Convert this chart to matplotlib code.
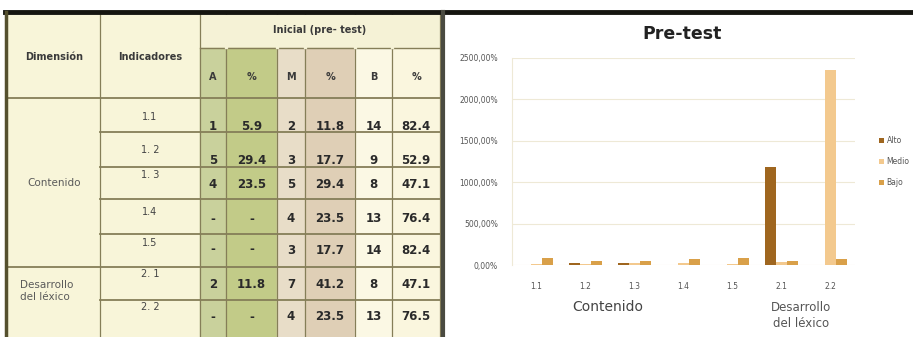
import matplotlib.pyplot as plt
from matplotlib.patches import Rectangle
import numpy as np

plt.rcParams['font.family'] = ['Liberation Sans', 'DejaVu Sans']

# table data
indicadores = ['1.1', '1. 2', '1. 3', '1.4', '1.5', '2. 1', '2. 2']
alto_n = ['1', '5', '4', '-', '-', '2', '-']
alto_p = ['5.9', '29.4', '23.5', '-', '-', '11.8', '-']
medio_n = ['2', '3', '5', '4', '3', '7', '4']
medio_p = ['11.8', '17.7', '29.4', '23.5', '17.7', '41.2', '23.5']
bajo_n = ['14', '9', '8', '13', '14', '8', '13']
bajo_p = ['82.4', '52.9', '47.1', '76.4', '82.4', '47.1', '76.5']

# chart data (percent as plotted in the original chart)
categorias = ['1.1', '1.2', '1.3', '1.4', '1.5', '2.1', '2.2']
alto = [5.9, 29.4, 23.5, 0, 0, 1180, 0]
medio = [11.8, 17.7, 29.4, 23.5, 17.7, 41.2, 2350]
bajo = [82.4, 52.9, 47.1, 76.4, 82.4, 47.1, 76.5]
series = ['Alto', 'Medio', 'Bajo']

W, H = 913, 337
fig = plt.figure(figsize=(W / 100, H / 100), dpi=100)

# ---- table part, drawn in pixel space ----
tab = fig.add_axes([0, 0, 1, 1])
tab.set_xlim(0, W)
tab.set_ylim(H, 0)
tab.axis('off')

xe = [8, 100, 200, 226, 277, 305, 355, 392, 440]
ye = [14, 48, 98, 132, 167, 199, 234, 267, 300, 345]
# text offsets inside each data row (the scanned table is slightly skewed)
ind_off = [19, 18, 8, 13, 9, 7, 7]
num_off = [29, 28, 17, 20, 16, 18, 17]
col_bg = ['#c9d19c', '#c2cb88', '#e8ddc8', '#dfcfb6', '#fbf8e4', '#faf6de']
cream = '#f8f5d9'
line_c = '#857e58'

tab.add_patch(Rectangle((xe[0], ye[0]), xe[-1] - xe[0], H - ye[0], color=cream, zorder=0))
tab.add_patch(Rectangle((xe[2], ye[0]), xe[-1] - xe[2], ye[1] - ye[0], color='#f5f2d6', zorder=0))
for j in range(6):
    tab.add_patch(Rectangle((xe[2 + j], ye[1]), xe[3 + j] - xe[2 + j], H - ye[1],
                            color=col_bg[j], zorder=0))

# grid lines
for x in xe[1:]:
    tab.plot([x, x], [ye[0], H], color=line_c, lw=0.9, zorder=1)
tab.plot([xe[2], xe[-1]], [ye[1], ye[1]], color=line_c, lw=1.0, zorder=1)
for y in ye[2:-1]:
    x0 = xe[0] if y in (ye[2], ye[7]) else xe[1]
    tab.plot([x0, xe[-1]], [y, y], color=line_c, lw=1.3, zorder=1)
# no vertical lines across the top header band for the data columns
for x in xe[3:-1]:
    tab.add_patch(Rectangle((x - 1, ye[0] + 0.5), 2, ye[1] - ye[0] - 1, color='#f5f2d6', zorder=1.5))

# borders
tab.plot([5, W], [12, 12], color='#151510', lw=3.5, zorder=3)
tab.plot([6, 6], [12, H], color='#55502e', lw=2.5, zorder=3)
tab.plot([443, 443], [12, H], color='#4a4a40', lw=3, zorder=3)

hdr = dict(ha='center', va='center', fontsize=7, fontweight='bold', color='#3a3a3a',
           family='DejaVu Sans')
tab.text((xe[2] + xe[-1]) / 2, 30, 'Inicial (pre- test)', **hdr)
tab.text((xe[0] + xe[1]) / 2, 57, 'Dimensión', **hdr)
tab.text((xe[1] + xe[2]) / 2, 57, 'Indicadores', **hdr)
for j, lab in enumerate(['A', '%', 'M', '%', 'B', '%']):
    tab.text((xe[2 + j] + xe[3 + j]) / 2, 77, lab, **hdr)

tab.text(54, 183, 'Contenido', ha='center', va='center', fontsize=7.5, color='#5a5a5a',
         family='DejaVu Sans')
tab.text(20, 291, 'Desarrollo\ndel léxico', ha='left', va='center', fontsize=7.5,
         color='#5a5a5a', linespacing=1.3, family='DejaVu Sans')

cols = [alto_n, alto_p, medio_n, medio_p, bajo_n, bajo_p]
for i in range(len(indicadores)):
    top = ye[2 + i]
    tab.text((xe[1] + xe[2]) / 2, top + ind_off[i], indicadores[i], ha='center', va='center',
             fontsize=7, color='#444444', family='DejaVu Sans')
    for j, c in enumerate(cols):
        tab.text((xe[2 + j] + xe[3 + j]) / 2, top + num_off[i], c[i], ha='center', va='center',
                 fontsize=8.5, fontweight='bold', color='#2a2a2a', family='DejaVu Sans')

# ---- chart part ----
ax = fig.add_axes([512 / W, (H - 265) / H, (855 - 512) / W, (265 - 58) / H])
x = np.arange(len(categorias))
bw = 0.22
colors = ['#9f661f', '#f3c98e', '#d9a049']
for k, vals in enumerate([alto, medio, bajo]):
    ax.bar(x + (k - 1) * bw, vals, bw, color=colors[k], label=series[k], zorder=2)

ax.set_xlim(-0.5, len(categorias) - 0.5)
ax.set_ylim(0, 2500)
ax.set_yticks(np.arange(0, 2501, 500))
ax.set_yticklabels([f'{v:.2f}%'.replace('.', ',') for v in np.arange(0, 2501, 500)],
                   fontsize=5.5, color='#555555', family='DejaVu Sans')
ax.set_xticks(x)
ax.set_xticklabels(categorias, fontsize=5.5, color='#555555', family='DejaVu Sans')
ax.tick_params(length=0, pad=12)
ax.tick_params(axis='y', pad=10)
ax.grid(axis='y', color='#eee9d6', lw=0.8, zorder=0)
for s in ax.spines.values():
    s.set_visible(False)
ax.spines['left'].set_visible(True)
ax.spines['left'].set_color('#eee9d6')

ax.text(1.45, -0.205, 'Contenido', transform=ax.get_xaxis_transform(), ha='center',
        va='center', fontsize=10, color='#444444', family='DejaVu Sans')
ax.text(5.4, -0.245, 'Desarrollo\ndel léxico', transform=ax.get_xaxis_transform(),
        ha='center', va='center', fontsize=8.5, color='#555555', linespacing=1.25,
        family='DejaVu Sans')

fig.text(682 / W, 1 - 34 / H, 'Pre-test', ha='center', va='center', fontsize=12.5,
         fontweight='bold', color='#222222', family='DejaVu Sans')

ax.legend(loc='center left', bbox_to_anchor=(1.05, 0.5), frameon=False,
          prop={'family': 'DejaVu Sans', 'size': 5.5},
          handlelength=0.6, handleheight=0.6, handletextpad=0.4, labelspacing=1.6,
          labelcolor='#555555')

fig.savefig('out.png', dpi=100)
